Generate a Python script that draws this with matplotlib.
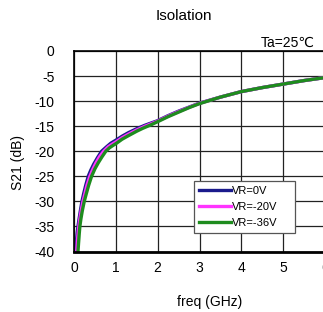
import matplotlib
matplotlib.use("Agg")
import matplotlib.pyplot as plt

plt.rcParams["font.family"] = ["Liberation Sans", "DejaVu Sans"]

# Isolation S21 (dB) vs frequency (GHz)
freq_0v = [0.04, 0.06, 0.075, 0.095, 0.12, 0.15, 0.19, 0.23, 0.28, 0.34, 0.40, 0.47,
           0.56, 0.66, 0.78, 0.88, 1.00, 1.15, 1.30, 1.50, 1.70, 2.00, 2.25, 2.50,
           2.75, 3.00, 3.50, 4.00, 4.50, 5.00, 5.50, 6.00]
s21_0v = [-40, -37.8, -36.3, -35, -33.6, -32, -30, -28.5, -26.8, -25, -23.8, -22.6,
          -21.3, -20, -19.1, -18.4, -17.8, -17.0, -16.3, -15.5, -14.8, -13.9, -12.9, -12.0,
          -11.2, -10.4, -9.2, -8.1, -7.3, -6.6, -5.9, -5.3]

freq_20v = [0.065, 0.085, 0.10, 0.115, 0.14, 0.175, 0.215, 0.26, 0.31, 0.38, 0.45, 0.52,
            0.61, 0.71, 0.82, 0.91, 1.00, 1.15, 1.30, 1.50, 1.70, 2.00, 2.25, 2.50,
            2.75, 3.00, 3.50, 4.00, 4.50, 5.00, 5.50, 6.00]
s21_20v = [-40, -37.5, -36.2, -35, -33.5, -31.7, -30, -28.5, -26.8, -25, -23.6, -22.4,
           -21.1, -20, -19.1, -18.6, -18.15, -17.3, -16.6, -15.75, -15.0, -14.0, -13.0, -12.1,
           -11.25, -10.45, -9.2, -8.1, -7.3, -6.6, -5.9, -5.3]

freq_36v = [0.095, 0.11, 0.125, 0.14, 0.165, 0.20, 0.245, 0.29, 0.35, 0.42, 0.50, 0.58,
            0.67, 0.76, 0.85, 0.94, 1.00, 1.15, 1.30, 1.50, 1.65, 1.82, 2.00, 2.25,
            2.50, 2.75, 3.00, 3.50, 4.00, 4.50, 5.00, 5.50, 6.00]
s21_36v = [-40, -38.2, -36.5, -35, -33.5, -31.8, -30, -28.6, -26.8, -25, -23.5, -22.3,
           -21.1, -20, -19.3, -18.8, -18.5, -17.6, -16.9, -16.0, -15.4, -14.8, -14.1, -13.1,
           -12.2, -11.3, -10.5, -9.2, -8.1, -7.3, -6.6, -5.9, -5.3]

x_ticks = [0, 1, 2, 3, 4, 5, 6]
y_ticks = [0, -5, -10, -15, -20, -25, -30, -35, -40]

fig = plt.figure(figsize=(3.23, 3.12), dpi=100)
# the original plot is cropped on the right, so the axes run past the figure edge
ax = fig.add_axes([74 / 323, 1 - 251.5 / 312, 251 / 323, 200.5 / 312])

ax.plot(freq_0v, s21_0v, color="#1a1a8c", lw=2.4, label="VR=0V")
ax.plot(freq_20v, s21_20v, color="#ff33ff", lw=2.4, label="VR=-20V")
ax.plot(freq_36v, s21_36v, color="#1e8c1e", lw=2.4, label="VR=-36V")

ax.set_xlim(0, 6)
ax.set_ylim(-40, 0)
ax.set_xticks(x_ticks)
ax.set_yticks(y_ticks)
ax.set_yticklabels([str(v) for v in y_ticks])
ax.tick_params(length=0, labelsize=10)
ax.tick_params(axis="y", pad=14)
ax.tick_params(axis="x", pad=7)
ax.grid(color="#222222", lw=0.9)
ax.set_axisbelow(True)
for side in ("left", "top", "right"):
    ax.spines[side].set_linewidth(1.2)
ax.spines["bottom"].set_linewidth(2)

leg = ax.legend(loc="lower left", bbox_to_anchor=(0.48, 0.092, 0.40, 0.249), mode="expand",
                fontsize=8, handlelength=2.8, handletextpad=0.15, labelspacing=0.55,
                borderaxespad=0, fancybox=False, framealpha=1, borderpad=0.45)
leg.get_frame().set_edgecolor("#555555")
leg.get_frame().set_linewidth(0.9)

fig.text(184 / 323, 1 - 16 / 312, "Isolation", ha="center", va="center", fontsize=11)
fig.text(315 / 323, 1 - 43 / 312, "Ta=25℃", ha="right", va="center", fontsize=10)
fig.text(18 / 323, 1 - 162 / 312, "S21 (dB)", ha="center", va="center", rotation=90, fontsize=10)
fig.text(210 / 323, 1 - 302 / 312, "freq (GHz)", ha="center", va="center", fontsize=10)

fig.savefig("out.png", dpi=100)
